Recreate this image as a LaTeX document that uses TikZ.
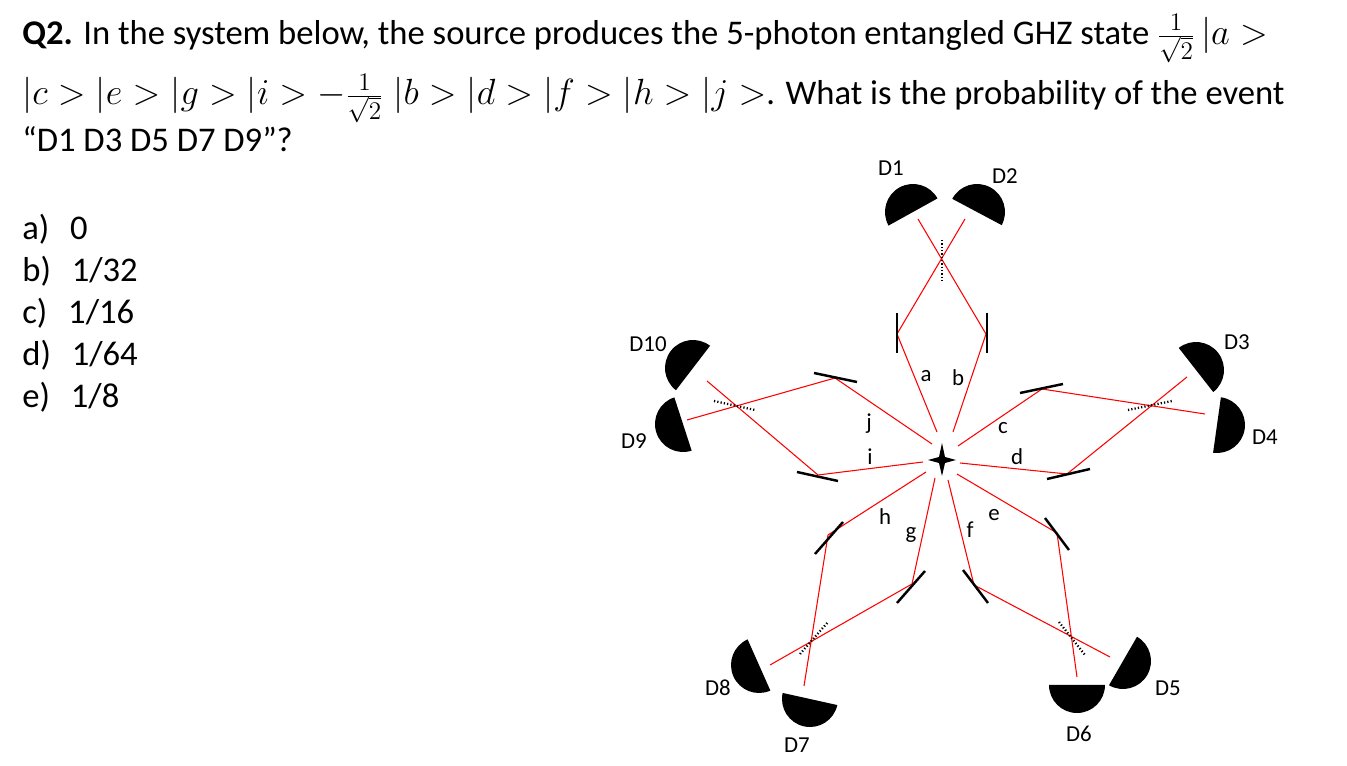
\documentclass[tikz,border=0pt]{standalone}
\usepackage{fontspec}
\setmainfont{Carlito}
\usetikzlibrary{calc}
\newcommand\mymath[1]{{\fontsize{22}{24}\selectfont$#1$}}
\begin{document}
\begin{tikzpicture}[x=0.02cm,y=-0.02cm,
  beam/.style={red,line width=0.6pt},
  mirror/.style={black,line width=1.4pt},
  bsplit/.style={black,line width=1.3pt,dash pattern=on 0.7pt off 1.2pt},
  lbl/.style={font=\fontsize{13}{15}\selectfont,inner sep=0pt},
  txt/.style={font=\fontsize{19.7}{22}\selectfont,inner sep=0pt,anchor=base west}]
\useasboundingbox (0,0) rectangle (1347,766);
% text
\node[txt] (l1) at (22,45) {\textbf{Q2.} In the system below, the source produces the 5-photon entangled GHZ state \mymath{\frac{1}{\sqrt{2}}\,|a>}};
\node[txt] (l2) at (22,105) {\mymath{|c>|e>|g>|i> -\frac{1}{\sqrt{2}}\;|b>|d>|f>|h>|j>}. What is the probability of the event};
\node[txt] (l3) at (22,152) {“D1 D3 D5 D7 D9”?};
\node[txt] (oa) at (22,240) {a)\hspace{0.6em}0};
\node[txt] (ob) at (22,282) {b)\hspace{0.6em}1/32};
\node[txt] (oc) at (22,324) {c)\hspace{0.6em}1/16};
\node[txt] (od) at (22,366) {d)\hspace{0.6em}1/64};
\node[txt] (oe) at (22,408) {e)\hspace{0.6em}1/8};
% source
\fill (942,443) -- (945,457) -- (956,460) -- (945,463) -- (942,476) -- (939,463) -- (928,460) -- (939,457) -- cycle;
\newcommand\detect[2]{\fill ($(#1)+(#2+90:28)$) arc[start angle=#2+90, delta angle=-180, radius=28] -- cycle;}
% ---- top arm
\coordinate (sa) at (937,432); \coordinate (ma) at (897,334); \coordinate (ea) at (965,219);
\coordinate (sb) at (953,432); \coordinate (mb) at (986,334); \coordinate (eb) at (918,219);
\draw[beam] (sa) -- (ma) -- (ea);
\draw[beam] (sb) -- (mb) -- (eb);
\draw[mirror] (897,313) -- (897,353);
\draw[mirror] (987,313) -- (987,353);
\draw[bsplit] (942,240) -- (942,282);
\coordinate (d1) at (913,212); \coordinate (d2) at (977,212);
\detect{d1}{-119} \detect{d2}{-62}
% ---- right arm
\coordinate (sc) at (958,446); \coordinate (mc) at (1042,389); \coordinate (ec) at (1205,414);
\coordinate (sd) at (960,463); \coordinate (md) at (1067,474); \coordinate (ed) at (1187,377);
\draw[beam] (sc) -- (mc) -- (ec);
\draw[beam] (sd) -- (md) -- (ed);
\draw[mirror] (1020,393) -- (1063,384);
\draw[mirror] (1047,479) -- (1090,469);
\draw[bsplit] (1128,410) -- (1172,401);
\coordinate (d3) at (1196,370); \coordinate (d4) at (1217,425);
\detect{d3}{-38} \detect{d4}{8}
% ---- lower right arm
\coordinate (se) at (957,474); \coordinate (me) at (1057,533); \coordinate (ee) at (1077,677);
\coordinate (sf) at (948,480); \coordinate (mf) at (974,585); \coordinate (ef) at (1110,657);
\draw[beam] (se) -- (me) -- (ee);
\draw[beam] (sf) -- (mf) -- (ef);
\draw[mirror] (1045,518) -- (1069,550);
\draw[mirror] (963,570) -- (988,603);
\draw[bsplit] (1059,622) -- (1085,655);
\coordinate (d5) at (1123,661); \coordinate (d6) at (1077,685);
\detect{d5}{30} \detect{d6}{90}
% ---- lower left arm
\coordinate (sh) at (926,472); \coordinate (mh) at (828,535); \coordinate (eh) at (804,686);
\coordinate (sg) at (935,478); \coordinate (mg) at (912,584); \coordinate (eg) at (770,665);
\draw[beam] (sh) -- (mh) -- (eh);
\draw[beam] (sg) -- (mg) -- (eg);
\draw[mirror] (815,554) -- (843,522);
\draw[mirror] (897,603) -- (925,571);
\draw[bsplit] (800,654) -- (828,622);
\coordinate (d8) at (759,665); \coordinate (d7) at (810,699);
\detect{d8}{156} \detect{d7}{102.5}
% ---- left arm
\coordinate (sj) at (932,444); \coordinate (mj) at (835,378); \coordinate (ej) at (687,420);
\coordinate (si) at (923,462); \coordinate (mi) at (818,475); \coordinate (ei) at (707,381);
\draw[beam] (sj) -- (mj) -- (ej);
\draw[beam] (si) -- (mi) -- (ei);
\draw[mirror] (814,373) -- (857,382);
\draw[mirror] (797,472) -- (838,481);
\draw[bsplit] (714,401) -- (755,410);
\coordinate (d10) at (693,368); \coordinate (d9) at (683,424);
\detect{d10}{-142.5} \detect{d9}{162}
% labels
\node[lbl] (la) at (926,376) {a};
\node[lbl] (lb) at (958,378) {b};
\node[lbl] (lc) at (1003,428) {c};
\node[lbl] (ld) at (1017,457) {d};
\node[lbl] (le) at (994,515) {e};
\node[lbl] (lf) at (970,530) {f};
\node[lbl] (lg) at (911,535) {g};
\node[lbl] (lh) at (885,517) {h};
\node[lbl] (li) at (870,457) {i};
\node[lbl] (lj) at (869,424) {j};
\node[lbl] (D1) at (891,168) {D1};
\node[lbl] (D2) at (1005,176) {D2};
\node[lbl] (D3) at (1237,342) {D3};
\node[lbl] (D4) at (1265,437) {D4};
\node[lbl] (D5) at (1168,688) {D5};
\node[lbl] (D6) at (1079,734) {D6};
\node[lbl] (D7) at (797,745) {D7};
\node[lbl] (D8) at (718,688) {D8};
\node[lbl] (D9) at (634,441) {D9};
\node[lbl] (D10) at (648,344) {D10};
\end{tikzpicture}
\end{document}
